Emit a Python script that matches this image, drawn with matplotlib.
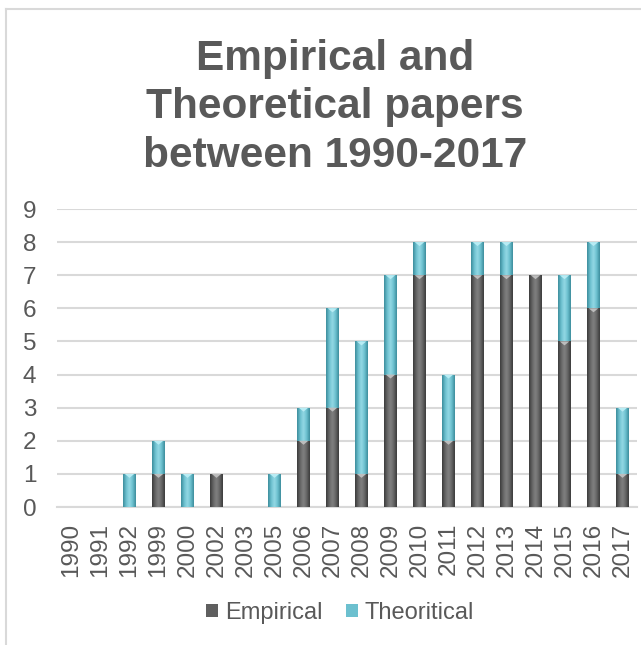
import numpy as np
import matplotlib
matplotlib.use("Agg")
import matplotlib.pyplot as plt
from matplotlib.lines import Line2D
from matplotlib.patches import Polygon
from matplotlib.colors import LinearSegmentedColormap

plt.rcParams['font.family'] = ['Liberation Sans', 'DejaVu Sans']

years = ['1990', '1991', '1992', '1999', '2000', '2002', '2003', '2005', '2006',
         '2007', '2008', '2009', '2010', '2011', '2012', '2013', '2014', '2015',
         '2016', '2017']
empirical = [0, 0, 0, 1, 0, 1, 0, 0, 2, 3, 1, 4, 7, 2, 7, 7, 7, 5, 6, 1]
theoretical = [0, 0, 1, 1, 1, 0, 0, 1, 1, 3, 4, 3, 1, 2, 1, 1, 0, 2, 2, 2]
series_names = ['Empirical', 'Theoritical']
title_lines = ['Empirical and', 'Theoretical papers', 'between 1990-2017']

W, H = 641, 645
fig = plt.figure(figsize=(W / 100, H / 100), dpi=100)
fig.patch.set_facecolor('white')

# chart frame (left and top edges)
fig.add_artist(Line2D([6 / W, 6 / W], [0, 1 - 9 / H], color='#d9d9d9', lw=1.5,
                      transform=fig.transFigure))
fig.add_artist(Line2D([6 / W, 1], [1 - 9 / H, 1 - 9 / H], color='#d9d9d9', lw=1.5,
                      transform=fig.transFigure))

ax = fig.add_axes([57 / W, 138 / H, (637 - 57) / W, (507 - 209) / H])
x = np.arange(len(years))
width = 0.43

gray_cmap = LinearSegmentedColormap.from_list(
    'g', ['#3a3a3a', '#666666', '#818181', '#666666', '#3a3a3a'])
teal_cmap = LinearSegmentedColormap.from_list(
    't', ['#3c8c9b', '#6cc0cf', '#94d9e5', '#6cc0cf', '#3c8c9b'])

bars_e = ax.bar(x, empirical, width, color='#5f5f5f', zorder=2)
bars_t = ax.bar(x, theoretical, width, bottom=empirical, color='#6cc0cf', zorder=2)

grad = np.linspace(0, 1, 64).reshape(1, -1)


def shade(bars, cmap, bevel):
    for b in bars:
        h = b.get_height()
        if h <= 0:
            continue
        x0, y0, w = b.get_x(), b.get_y(), b.get_width()
        im = ax.imshow(grad, cmap=cmap, aspect='auto', extent=(x0, x0 + w, y0, y0 + h),
                       zorder=3, interpolation='bicubic')
        im.set_clip_path(b)
        # small bevel highlight at the top of each segment
        top = y0 + h
        tri = Polygon([(x0 + 0.12 * w, top), (x0 + 0.88 * w, top), (x0 + 0.5 * w, top - 0.12)],
                      closed=True, facecolor=bevel, edgecolor='none', zorder=4)
        ax.add_patch(tri)


shade(bars_e, gray_cmap, '#bdbdbd')
shade(bars_t, teal_cmap, '#b8ecf4')

ax.set_xlim(-0.5, len(years) - 0.5)
ax.set_ylim(0, 9)
ax.set_yticks(range(0, 10))
ax.yaxis.grid(True, color='#d9d9d9', lw=1.5, zorder=0)
ax.set_axisbelow(True)
for s in ['top', 'right', 'left']:
    ax.spines[s].set_visible(False)
ax.spines['bottom'].set_color('#d9d9d9')
ax.spines['bottom'].set_linewidth(1.5)
ax.set_xticks(x)
ax.set_xticklabels(years, rotation=90)
ax.tick_params(axis='both', length=0, labelsize=17.5, labelcolor='#595959')
ax.tick_params(axis='x', pad=11.5)
ax.tick_params(axis='y', pad=15)
ax.set_facecolor('none')

# title
for line, base in zip(title_lines, [70, 118, 167]):
    fig.text(335 / W, 1 - base / H, line, ha='center', va='baseline',
             fontsize=30.5, fontweight='bold', color='#595959')

# legend
handles = [plt.Rectangle((0, 0), 1, 1, facecolor='#5f5f5f'),
           plt.Rectangle((0, 0), 1, 1, facecolor='#6cc0cf')]
fig.legend(handles, series_names, loc='center', bbox_to_anchor=(340 / W, 1 - 613 / H),
           ncol=2, frameon=False, fontsize=17, labelcolor='#595959',
           handlelength=0.5, handleheight=0.5, handletextpad=0.3, columnspacing=1.0)

fig.savefig('out.png', dpi=100, facecolor='white')
